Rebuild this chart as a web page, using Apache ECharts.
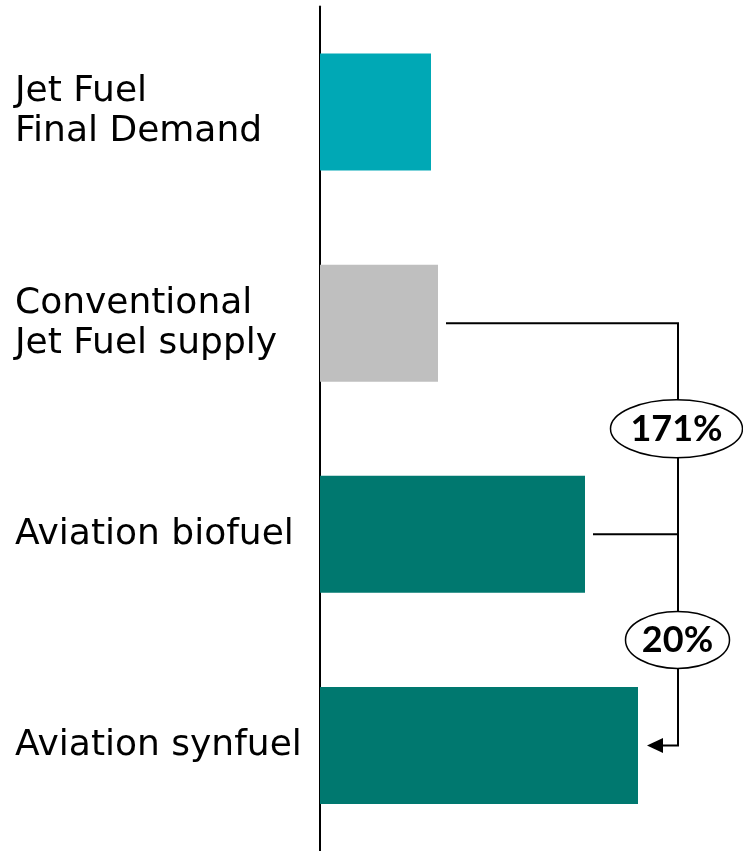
<!DOCTYPE html>
<html>
<head>
<meta charset="utf-8">
<script src="https://cdn.jsdelivr.net/npm/echarts@6/dist/echarts.min.js"></script>
<style>
html,body{margin:0;padding:0;background:#fff;}
#chart{width:743px;height:851px;}
</style>
</head>
<body>
<div id="chart"></div>
<script>
// Data
const categories = ['Jet Fuel\nFinal Demand', 'Conventional\nJet Fuel supply', 'Aviation biofuel', 'Aviation synfuel'];
const values = [111, 118, 265, 318];
const barColors = ['#00A8B5', '#BFBFBF', '#00786F', '#00786F'];
const growthLabels = ['171%', '20%'];

const chart = echarts.init(document.getElementById('chart'), null, {renderer: 'canvas'});
const FONT = 'Lato, "Open Sans", sans-serif';
const LABEL_FONT = '"DejaVu Sans", sans-serif';

chart.setOption({
  animation: false,
  grid: {left: 320, right: 0, top: 6.5, height: 848},
  xAxis: {
    type: 'value', min: 0, max: 423, show: false
  },
  yAxis: {
    type: 'category', inverse: true, data: categories,
    axisLine: {show: true, lineStyle: {color: '#000', width: 2}},
    axisTick: {show: false},
    axisLabel: {
      align: 'left', margin: 305, color: '#000',
      fontFamily: LABEL_FONT, fontWeight: 'normal', fontSize: 36, lineHeight: 40,
      padding: [7, 0, 0, 0]
    }
  },
  series: [{
    type: 'bar', barWidth: 117,
    data: values.map((v, i) => ({value: v, itemStyle: {color: barColors[i]}}))
  }]
});

function px(v, i) { return chart.convertToPixel({seriesIndex: 0}, [v, i]); }

const pConv = px(values[1], 1);
const pBio = px(values[2], 2);
const pSyn = px(values[3], 3);
const bracketX = 678;
const gap = 8;

const elements = [];
elements.push({
  type: 'polyline', z: 10,
  shape: {points: [[pConv[0] + gap, pConv[1]], [bracketX, pConv[1]], [bracketX, pSyn[1]], [pSyn[0] + gap + 14, pSyn[1]]]},
  style: {stroke: '#000', lineWidth: 2, fill: null}
});
elements.push({
  type: 'polygon', z: 10,
  shape: {points: [[pSyn[0] + gap + 1, pSyn[1]], [pSyn[0] + gap + 17, pSyn[1] - 7.5], [pSyn[0] + gap + 17, pSyn[1] + 7.5]]},
  style: {fill: '#000'}
});
elements.push({
  type: 'line', z: 10,
  shape: {x1: pBio[0] + gap, y1: pBio[1], x2: bracketX, y2: pBio[1]},
  style: {stroke: '#000', lineWidth: 2}
});
const ellipses = [
  {cy: (pConv[1] + pBio[1]) / 2, rx: 66, ry: 29, cx: 676.5, label: growthLabels[0]},
  {cy: (pBio[1] + pSyn[1]) / 2, rx: 52, ry: 28.5, cx: 677.5, label: growthLabels[1]}
];
ellipses.forEach(e => {
  elements.push({
    type: 'ellipse', z: 20,
    shape: {cx: e.cx, cy: e.cy, rx: e.rx, ry: e.ry},
    style: {fill: '#fff', stroke: '#000', lineWidth: 1.5}
  });
  elements.push({
    type: 'text', z: 21, x: e.cx, y: e.cy + 1,
    style: {text: e.label, fill: '#000', font: 'bold 36px ' + FONT, align: 'center', verticalAlign: 'middle'}
  });
});

chart.setOption({graphic: {elements: elements}});
</script>
</body>
</html>
